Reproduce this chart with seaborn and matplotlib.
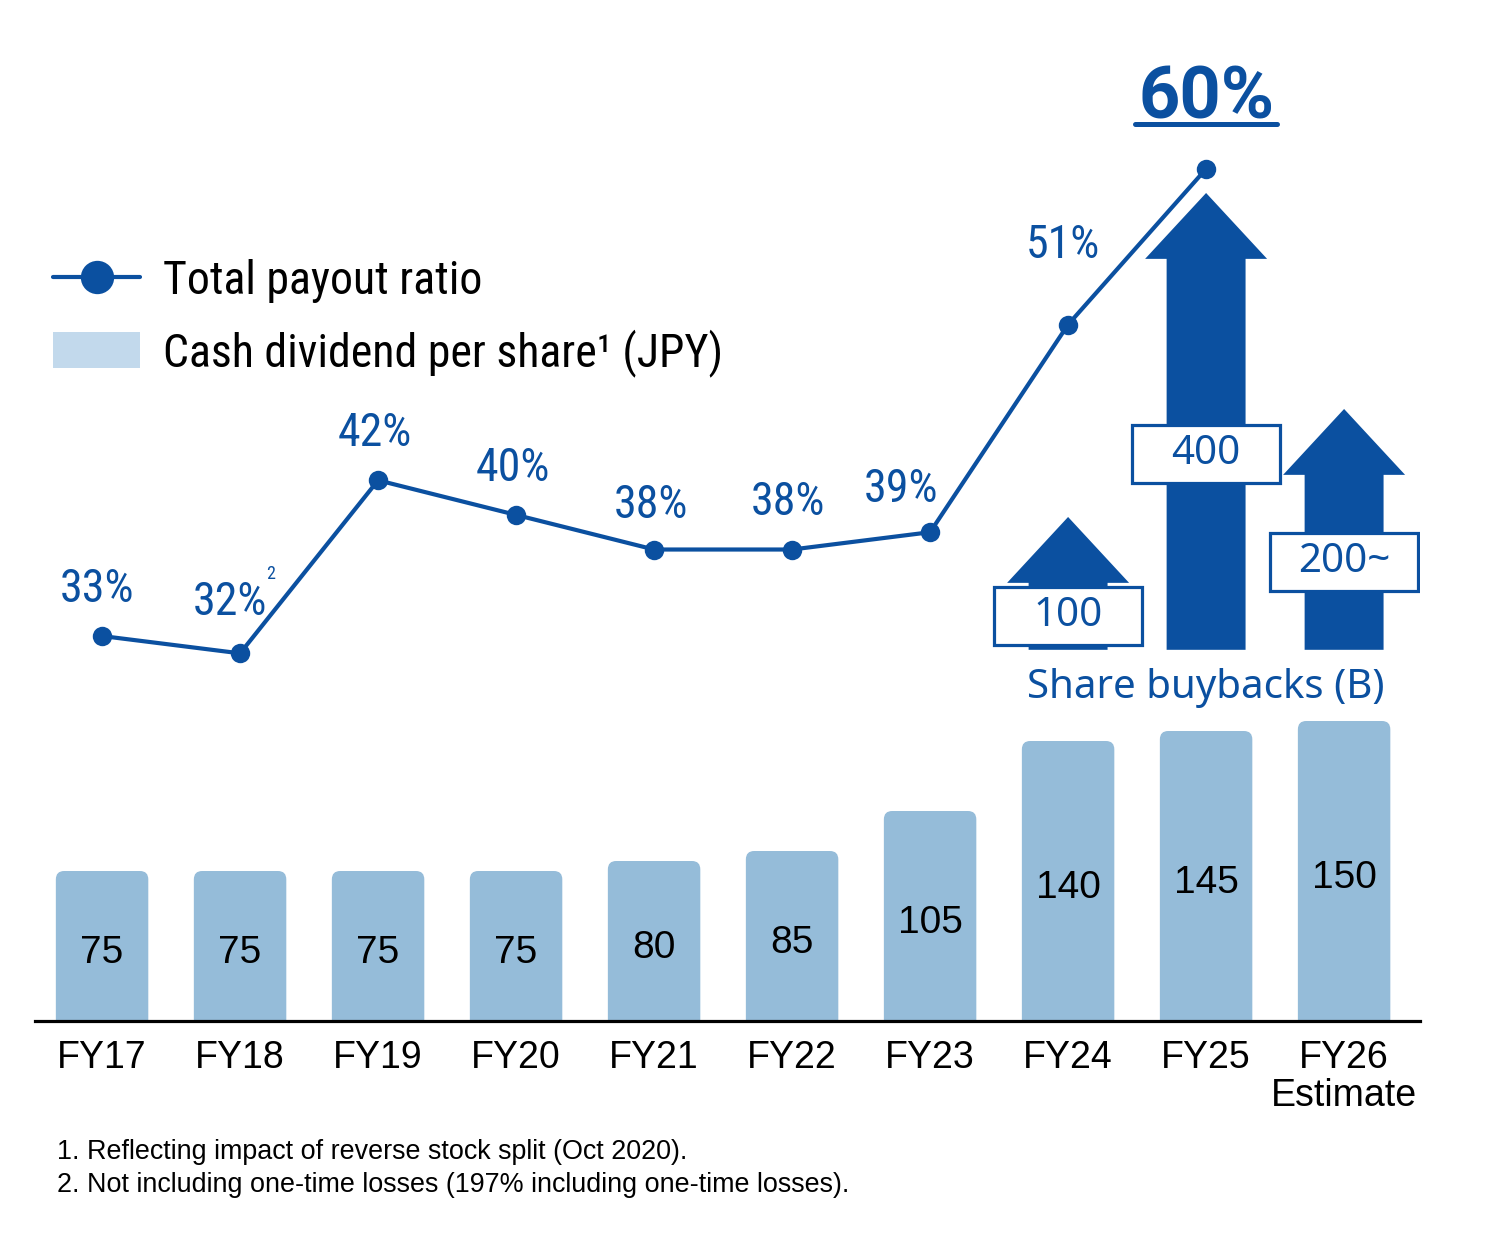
import numpy as np
import pandas as pd
import matplotlib
matplotlib.use("Agg")
import matplotlib.pyplot as plt
from matplotlib import font_manager
from matplotlib.patches import FancyArrow, FancyBboxPatch, Rectangle, Patch
from matplotlib.lines import Line2D
import seaborn as sns

# Data
years = ["FY17", "FY18", "FY19", "FY20", "FY21", "FY22", "FY23", "FY24", "FY25", "FY26\nEstimate"]
dividend = [75, 75, 75, 75, 80, 85, 105, 140, 145, 150]
payout = [33, 32, 42, 40, 38, 38, 39, 51, 60]
payout_labels = ["33%", "32%", "42%", "40%", "38%", "38%", "39%", "51%", "60%"]
buyback_years = ["FY24", "FY25", "FY26\nEstimate"]
buyback = [100, 400, 200]
buyback_labels = ["100", "400", "200~"]
footnotes = [
    "1. Reflecting impact of reverse stock split (Oct 2020).",
    "2. Not including one-time losses (197% including one-time losses).",
]

blue = "#0B50A0"
bar_color = "#95BCD9"
legend_color = "#C2D9EC"

sns.set_theme(style="white")
plt.rcParams["font.family"] = ["Liberation Sans", "DejaVu Sans"]
plt.rcParams["text.color"] = "black"

names = {f.name for f in font_manager.fontManager.ttflist}
narrow = next((n for n in ["Liberation Sans Narrow", "Roboto Condensed", "Open Sans Condensed",
                           "Noto Sans"] if n in names), "DejaVu Sans")
plain = "Noto Sans" if "Noto Sans" in names else "DejaVu Sans"
bold = "Roboto" if "Roboto" in names else "DejaVu Sans"

W, H = 1485, 1237
fig = plt.figure(figsize=(W / 100, H / 100), dpi=100)
ax = fig.add_axes([35 / W, (H - 1021) / H, 1385 / W, 1021 / H])

df = pd.DataFrame({"year": years, "dividend": dividend})
sns.barplot(data=df, x="year", y="dividend", color=bar_color, width=0.67,
            saturation=1, ax=ax, errorbar=None)

# round the top corners of the bars
for bar in list(ax.patches):
    x, w, h = bar.get_x(), bar.get_width(), bar.get_height()
    bar.remove()
    ax.add_patch(FancyBboxPatch((x, -10), w, h + 10,
                                boxstyle="round,pad=0,rounding_size=0.06",
                                mutation_aspect=70, fc=bar_color, ec="none"))

for i, v in enumerate(dividend):
    ax.text(i, v / 2 - 3.5, str(v), ha="center", va="center", fontsize=28, color="black")

ax.set_xlim(-0.486, 9.55)
ax.set_ylim(0, 510.5)
ax.set_xlabel("")
ax.set_ylabel("")
ax.set_yticks([])
for s in ["top", "left", "right"]:
    ax.spines[s].set_visible(False)
ax.spines["bottom"].set_linewidth(2.3)
ax.spines["bottom"].set_color("black")
ax.tick_params(axis="x", length=0, pad=14, labelsize=27, colors="black")
for lab in ax.get_xticklabels():
    lab.set_linespacing(1.05)

# payout ratio line
ax2 = ax.twinx()
ax2.axis("off")
ax2.set_ylim(10.75, 69.76)
xs = np.arange(len(payout))
sns.lineplot(x=xs, y=payout, ax=ax2, color=blue, linewidth=3, marker="o",
             markersize=14, markeredgewidth=0, legend=False)

offsets = [(-4, 34), (-7, 37), (-2, 34), (-2, 34), (-2, 32), (-3, 34), (-21, 31), (-4, 57)]
for i, (lab, off) in enumerate(zip(payout_labels[:-1], offsets)):
    ax2.annotate(lab, xy=(i, payout[i]), xytext=off, textcoords="offset points",
                 ha="center", va="center", fontsize=33, color=blue, family=narrow)
ax2.annotate("2", xy=(1, payout[1]), xytext=(22, 57), textcoords="offset points",
             ha="center", va="center", fontsize=13, color=blue, family=narrow)
t60 = ax2.annotate(payout_labels[-1], xy=(8, payout[8]), xytext=(0, 36.5),
                   textcoords="offset points", ha="center", va="baseline",
                   fontsize=52, fontweight="bold", color=blue, family=bold)

# share buyback arrows
ax3 = ax.twinx()
ax3.axis("off")
ax3.set_ylim(-366.7, 578.7)
base = -23
head = 61
for name, v, lab in zip(buyback_years, buyback, buyback_labels):
    xi = years.index(name)
    ax3.add_patch(FancyArrow(xi, base, 0, v - base, width=0.572, head_width=0.884,
                             head_length=head, length_includes_head=True,
                             fc=blue, ec="none"))
    mid = (base + v - head) / 2
    ax3.add_patch(Rectangle((xi - 0.535, mid - 26.8), 1.07, 53.6, fc="white",
                            ec=blue, lw=2.3))
    ax3.text(xi, mid, lab, ha="center", va="center", fontsize=29, color=blue,
             family=plain)
ax3.annotate("Share buybacks (B)", xy=(years.index("FY25"), base), xytext=(0, -13),
             textcoords="offset points", ha="center", va="top", fontsize=29,
             color=blue, family=plain)

# legend
handles = [
    Line2D([], [], color=blue, lw=3, marker="o", markersize=24, markeredgewidth=0),
    Patch(facecolor=legend_color, edgecolor="none"),
]
leg = fig.legend(handles, ["Total payout ratio", "Cash dividend per share¹ (JPY)"],
                 loc="upper left", bbox_to_anchor=(53 / W, 1 - 259 / H), frameon=False,
                 borderpad=0, borderaxespad=0, handlelength=1.9, handleheight=0.85,
                 handletextpad=0.5, labelspacing=0.56,
                 prop={"family": narrow, "size": 33})
for t in leg.get_texts():
    t.set_color("black")

# footnotes
for k, note in enumerate(footnotes):
    fig.text(57 / W, 1 - (1152 + 33 * k) / H, note, ha="left", va="center",
             fontsize=19.4, color="black")

# underline for the 60% label
fig.canvas.draw()
bb = t60.get_window_extent()
inv = fig.transFigure.inverted()
(x0, y0), (x1, _) = inv.transform([(bb.x0 - 3, bb.y0), (bb.x1 + 3, bb.y0)])
ybase = inv.transform((0, ax2.transData.transform((8, payout[8]))[1] + 36.5 * 100 / 72 - 6))[1]
fig.add_artist(Line2D([x0, x1], [ybase, ybase], color=blue, lw=3.6,
                      transform=fig.transFigure))

fig.savefig("out.png", dpi=100)
